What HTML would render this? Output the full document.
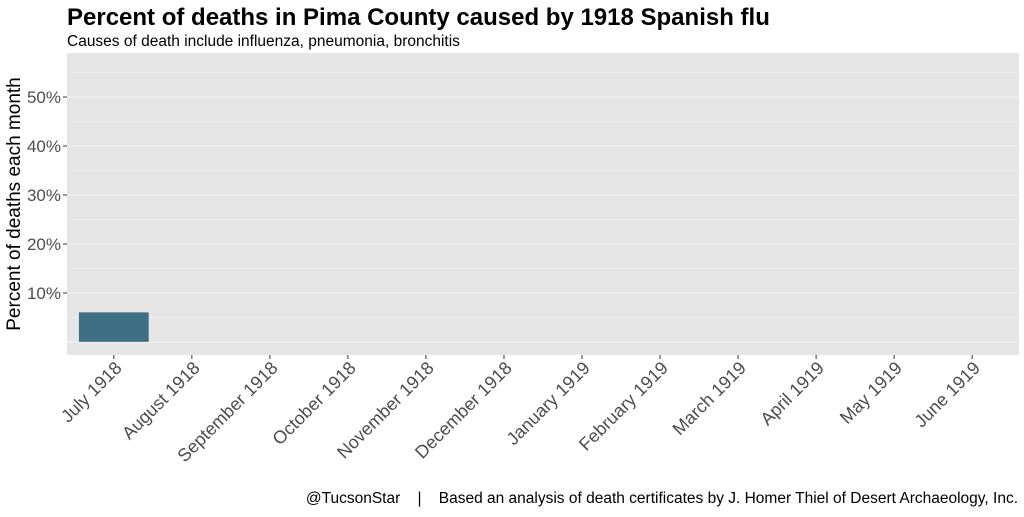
<!DOCTYPE html>
<html><head><meta charset="utf-8"><style>
body{margin:0;background:#fff;font-family:"Liberation Sans",Arial,sans-serif}
svg text{font-family:"Liberation Sans",Arial,sans-serif}
</style></head><body>
<svg id="c" width="1024" height="512" xmlns="http://www.w3.org/2000/svg">
<text x="67" y="25" font-size="24" font-weight="bold" fill="#000">Percent of deaths in Pima County caused by 1918 Spanish flu</text>
<text x="67" y="46" font-size="15.5" fill="#000">Causes of death include influenza, pneumonia, bronchitis</text>
<rect x="67" y="53" width="952" height="302" fill="#e5e5e5"/>
<g id="grid"></g><g id="bars"></g><g id="yaxis"></g><g id="xaxis"></g>
<text transform="translate(20,204) rotate(-90)" text-anchor="middle" font-size="19" fill="#000">Percent of deaths each month</text>
<text x="1018" y="503" text-anchor="end" font-size="15.5" fill="#000" style="white-space:pre" xml:space="preserve">@TucsonStar    |    Based an analysis of death certificates by J. Homer Thiel of Desert Archaeology, Inc.</text>
</svg>
<script>
const categories=["July 1918","August 1918","September 1918","October 1918","November 1918","December 1918","January 1919","February 1919","March 1919","April 1919","May 1919","June 1919"];
const values=[6.1,0,0,0,0,0,0,0,0,0,0,0];
const yTicks=[10,20,30,40,50];
const yTickLabels=["10%","20%","30%","40%","50%"];
const NS="http://www.w3.org/2000/svg";
const px0=67,px1=1019;
const step=(px1-px0)/(categories.length-1+1.2);
const xC=i=>px0+step*(0.6+i);
const yS=v=>342-4.9*v;
function mk(tag,attrs,parent){const e=document.createElementNS(NS,tag);for(const k in attrs)e.setAttribute(k,attrs[k]);document.getElementById(parent).appendChild(e);return e;}
for(let v=0;v<=55;v+=5){
 const l=mk('line',{x1:px0,x2:px1,y1:yS(v),y2:yS(v),stroke:'#f2f2f2','stroke-width':v%10===0?1:0.5},'grid');
 
 
}
categories.forEach((c,i)=>{
 const bw=step*0.9;
 const b=mk('rect',{x:xC(i)-bw/2,y:yS(values[i]),width:bw,height:yS(0)-yS(values[i]),fill:'#3f6f84',stroke:'#fff','stroke-width':0.3},'bars');
 
 
 const t=mk('line',{x1:xC(i),x2:xC(i),y1:355,y2:359,stroke:'#333'},'xaxis');
 
 
 const tx=mk('text',{transform:`translate(${xC(i)+9},${369}) rotate(-45)`,'text-anchor':'end','font-size':18,fill:'#4d4d4d'},'xaxis');
 tx.textContent=c;
 
 
});
yTicks.forEach((v,i)=>{
 const t=mk('line',{x1:63,x2:67,y1:yS(v),y2:yS(v),stroke:'#333'},'yaxis');
 
 
 const tx=mk('text',{x:61,y:yS(v)+6,'text-anchor':'end','font-size':17,fill:'#4d4d4d'},'yaxis');
 tx.textContent=yTickLabels[i];
 
 
});
</script>
</body></html>
